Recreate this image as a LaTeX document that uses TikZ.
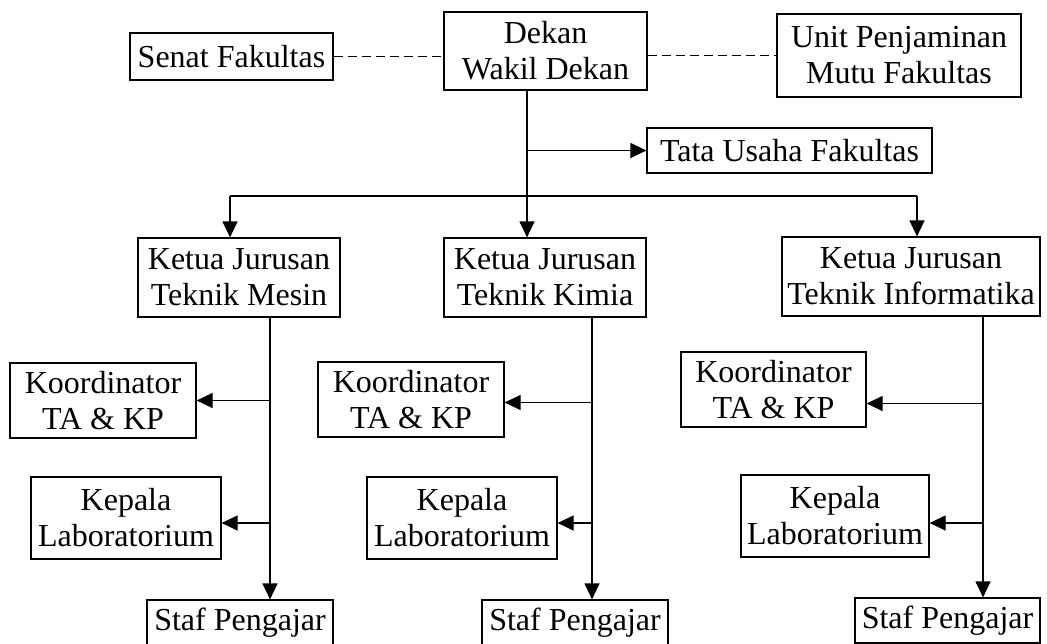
\documentclass[tikz,border=0pt]{standalone}
\usepackage{fontspec}
\setmainfont{Liberation Serif}
\usetikzlibrary{arrows.meta,positioning,calc}

\begin{document}
\begin{tikzpicture}[x=0.5pt,y=-0.5pt,
    box/.style={draw,line width=0.6pt,inner sep=0pt,align=center,font=\fontsize{16}{18}\selectfont},
    arr/.style={line width=0.6pt,-{Triangle[length=8pt,width=7.5pt]}},
    garis/.style={line width=0.6pt},
    koordinasi/.style={line width=0.6pt,dash pattern=on 4.5pt off 2.5pt}]
    \useasboundingbox (0,0) rectangle (1047,643);
    % pimpinan fakultas
    \node[box,minimum width=101.5pt,minimum height=23.5pt] (senat) at (231.5,56.5) {Senat Fakultas};
    \node[box,minimum width=101.5pt,minimum height=39pt] (dekan) at (545.5,51) {Dekan\\Wakil Dekan};
    \node[box,minimum width=122pt,minimum height=41.5pt] (upm) at (899,55.5) {Unit Penjaminan\\Mutu Fakultas};
    \node[box,minimum width=142.5pt,minimum height=22.5pt] (tata) at (789.5,150.5) {Tata Usaha Fakultas};
    % jurusan
    \node[box,minimum width=101pt,minimum height=39.5pt] (mesin) at (239,277.5) {Ketua Jurusan\\Teknik Mesin};
    \node[box,minimum width=101pt,minimum height=39.5pt] (kimia) at (545,277.5) {Ketua Jurusan\\Teknik Kimia};
    \node[box,minimum width=129pt,minimum height=39.5pt] (info) at (911,276.5) {Ketua Jurusan\\Teknik Informatika};
    % bawah jurusan
    \node[box,minimum width=93pt,minimum height=37.5pt] (koor1) at (103,400.5) {Koordinator\\TA \& KP};
    \node[box,minimum width=95pt,minimum height=41pt] (kep1) at (126,518) {Kepala\\Laboratorium};
    \node[box,minimum width=93pt,minimum height=22.5pt] (staf1) at (240,622.5) {Staf Pengajar};
    \node[box,minimum width=93pt,minimum height=37.5pt] (koor2) at (411,399.5) {Koordinator\\TA \& KP};
    \node[box,minimum width=95pt,minimum height=41pt] (kep2) at (462,518) {Kepala\\Laboratorium};
    \node[box,minimum width=93pt,minimum height=22.5pt] (staf2) at (575,622.5) {Staf Pengajar};
    \node[box,minimum width=92.5pt,minimum height=37.5pt] (koor3) at (773.5,389.5) {Koordinator\\TA \& KP};
    \node[box,minimum width=94pt,minimum height=41pt] (kep3) at (835,516) {Kepala\\Laboratorium};
    \node[box,minimum width=92.5pt,minimum height=22.5pt] (staf3) at (947.5,620.5) {Staf Pengajar};

    \coordinate (batang) at (527,196);
    \coordinate (kiri) at (230,196);
    \coordinate (kanan) at (917,196);
    \coordinate (k1) at (270,0);
    \coordinate (k2) at (592,0);
    \coordinate (k3) at (983,0);

    \draw[koordinasi] (senat.east) -- (senat.east -| dekan.west);
    \draw[koordinasi] (dekan.east |- upm.west) -- (upm.west);
    \draw[arr] (dekan.south -| batang) -- (kimia.north -| batang);
    \draw[arr] (tata.west -| batang) -- (tata.west);
    \draw[garis] (kiri) -- (kanan);
    \draw[arr] (kiri) -- (mesin.north -| kiri);
    \draw[arr] (kanan) -- (info.north -| kanan);

    % garis tiap jurusan
    \draw[arr] (mesin.south -| k1) -- (staf1.north -| k1);
    \draw[arr] (koor1.east -| k1) -- (koor1.east);
    \draw[arr] ([yshift=-2.5pt]kep1.east -| k1) -- ([yshift=-2.5pt]kep1.east);
    \draw[arr] (kimia.south -| k2) -- (staf2.north -| k2);
    \draw[arr] ([yshift=-1.5pt]koor2.east -| k2) -- ([yshift=-1.5pt]koor2.east);
    \draw[arr] ([yshift=-2.5pt]kep2.east -| k2) -- ([yshift=-2.5pt]kep2.east);
    \draw[arr] (info.south -| k3) -- (staf3.north -| k3);
    \draw[arr] ([yshift=-7pt]koor3.east -| k3) -- ([yshift=-7pt]koor3.east);
    \draw[arr] ([yshift=-3.5pt]kep3.east -| k3) -- ([yshift=-3.5pt]kep3.east);
\end{tikzpicture}
\end{document}
